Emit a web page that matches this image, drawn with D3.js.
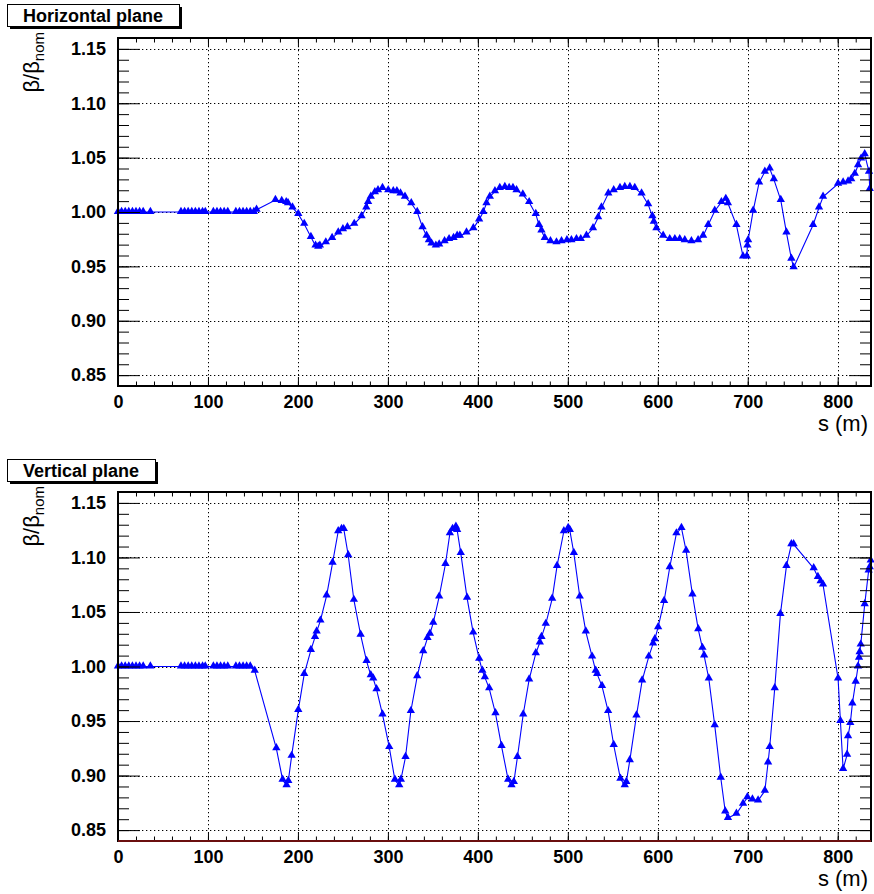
<!DOCTYPE html>
<html><head><meta charset="utf-8">
<script src="https://cdn.jsdelivr.net/npm/d3@7"></script>
<style>
body{margin:0;background:#fff}
svg{display:block}
text{font-family:"Liberation Sans",Arial,Helvetica,sans-serif}
</style>
</head><body>
<svg id="c" width="874" height="894"></svg>
<script>
// ---------- data ----------
const panelTitles = ["Horizontal plane", "Vertical plane"];
const xTicks = [0, 100, 200, 300, 400, 500, 600, 700, 800];
const yTicks = [0.85, 0.90, 0.95, 1.00, 1.05, 1.10, 1.15];
const xTitle = "s (m)";

const hS = [0,4,8,12,16,20,24,28,36,70,74,78,82,86,90,94,97,106,110,114,118,122,131,135,139,143,147,151,154,
175,182,187,189,194,200.4,207,214.4,219.6,222.6,224.4,231,238,244.8,250,255,262.6,270.7,276,278,281,285.5,289,294,
300.4,306,310,314,319,326,332.6,338.5,343,345.6,348.5,353.3,357,363,368,373,377,380,387.4,395,401.4,406,409.6,413.3,
419,424.4,430,434.8,439,443,450,457,464.4,468,470.7,474.4,480.7,487.4,493,499,504,509.6,514.4,520.7,528,533.7,537.4,
545,551,558,563.3,569,574.4,582,589.3,594,595.6,598.5,606,613.3,619,624.4,630,637.4,644.8,650.4,656,663.3,670.7,
675.6,678,687.4,694.8,699,699.6,700.4,706,712.6,719,724.4,729,736.7,743,748.5,751,772.6,779.2,783.7,800.4,806,811.5,
815,819,822.6,826,830,834.8,835.6];
const hBeta = [1,1,1,1,1,1,1,1,1,1,1,1,1,1,1,1,1,1,1,1,1,1,1,1,1,1,1,1,1.002,
1.011,1.010,1.009,1.008,1.004,0.998,0.989,0.977,0.969,0.968,0.969,0.972,0.976,0.981,0.984,0.986,0.989,0.996,1.004,1.009,1.014,1.018,1.020,1.022,
1.020,1.019,1.019,1.017,1.014,1.008,1.000,0.986,0.978,0.974,0.971,0.969,0.970,0.973,0.975,0.976,0.978,0.978,0.981,0.985,0.993,1.000,1.008,1.014,
1.019,1.022,1.023,1.022,1.022,1.020,1.016,1.009,0.998,0.988,0.983,0.976,0.973,0.972,0.973,0.974,0.974,0.975,0.975,0.978,0.985,0.995,1.004,
1.017,1.020,1.022,1.023,1.023,1.022,1.017,1.007,0.996,0.991,0.985,0.978,0.975,0.975,0.975,0.974,0.973,0.974,0.978,0.988,1.001,1.009,
1.012,1.008,0.988,0.959,0.959,0.969,0.974,1.001,1.027,1.037,1.040,1.030,1.011,0.981,0.957,0.949,0.988,1.004,1.014,1.026,1.027,1.028,
1.030,1.035,1.043,1.049,1.053,1.037,1.021];

const vS = [0,4,8,12,16,20,24,28,36,70,74,78,82,86,90,94,97,106,110,114,118,122,131,135,139,143,147,152,
176,183,187.4,189.3,193,200.4,207,214.4,219,220.8,225,231.9,238.5,244.8,248.5,251,255.9,262.2,269.7,276.3,281,283.7,287.4,294,
301.5,307.8,312.6,314.4,319.6,325.5,332.6,339.3,344,346.7,350.4,357,364,368.9,371.9,375.6,377,381,388,394.8,401.5,405,407.8,412.6,
419.6,426.3,433.7,437.4,440,444,450.4,457,464.4,468.9,470.7,475.5,482.6,488,495.6,500.4,502.2,506.7,513.3,520,527,531,532.6,538,
544.8,551,558.5,563.3,565,568.9,576.3,582.6,590,594.8,596.7,600.4,607,613.3,620.7,626.3,631.5,638.5,645,649.6,651.5,656.7,663.3,
670,675,678,687.4,694.8,699.6,705.2,711.5,719,722.6,724.4,730,736.3,743,748.5,751,773.3,778,781,783.7,800.4,803,806,810.4,811.5,
814,816.3,820,822.6,823.7,824.4,825.6,830,834.4,835.6,836.7];
const vBeta = [1,1,1,1,1,1,1,1,1,1,1,1,1,1,1,1,1,1,1,1,1,1,1,1,1,1,1,0.996,
0.925,0.896,0.891,0.895,0.918,0.960,0.993,1.015,1.027,1.032,1.042,1.065,1.095,1.124,1.126,1.126,1.102,1.061,1.029,1.005,0.992,0.989,0.979,0.956,
0.926,0.896,0.891,0.896,0.917,0.959,0.991,1.014,1.026,1.030,1.040,1.064,1.094,1.122,1.126,1.128,1.125,1.104,1.063,1.031,1.007,0.996,0.990,0.980,
0.957,0.927,0.896,0.891,0.894,0.917,0.956,0.988,1.012,1.022,1.027,1.039,1.062,1.092,1.124,1.127,1.125,1.104,1.064,1.032,1.009,0.996,0.993,0.982,
0.959,0.928,0.897,0.891,0.894,0.914,0.955,0.987,1.009,1.021,1.025,1.036,1.060,1.091,1.122,1.127,1.106,1.066,1.034,1.017,1.010,0.989,0.946,
0.898,0.867,0.861,0.865,0.874,0.880,0.878,0.877,0.886,0.912,0.926,0.980,1.048,1.092,1.112,1.112,1.090,1.082,1.078,1.075,0.989,0.950,0.906,0.919,0.936,
0.948,0.966,0.986,1.000,1.008,1.013,1.020,1.057,1.088,1.091,1.097];

// ---------- drawing ----------
const svg = d3.select("#c");
const FONT = '"Liberation Sans",Arial,Helvetica,sans-serif';
const left = 118, right = 871;
const panels = [
  {title: panelTitles[0], s: hS, b: hBeta, top: 38, bottom: 386, boxY: 4},
  {title: panelTitles[1], s: vS, b: vBeta, top: 492, bottom: 841, boxY: 459}
];

const x = d3.scaleLinear().domain([0, 837]).range([left, right]);

panels.forEach((p, pi) => {
  const y = d3.scaleLinear().domain([0.84, 1.16]).range([p.bottom, p.top]);
  const g = svg.append("g");
  const W = right - left, H = p.bottom - p.top;

  // grid
  const grid = g.append("g").attr("stroke", "#000").attr("stroke-width", 1).attr("stroke-dasharray", "1.3,2.7");
  grid.selectAll("line.gx").data(xTicks.filter(t => t > 0)).enter().append("line")
    .attr("x1", d => Math.round(x(d)) + 0.5).attr("x2", d => Math.round(x(d)) + 0.5)
    .attr("y1", p.top).attr("y2", p.bottom);
  grid.selectAll("line.gy").data(yTicks).enter().append("line")
    .attr("x1", left).attr("x2", right)
    .attr("y1", d => Math.round(y(d)) + 0.5).attr("y2", d => Math.round(y(d)) + 0.5);

  // data
  const pts = p.s.map((s, i) => [s, p.b[i]]);
  g.append("path").datum(pts)
    .attr("fill", "none").attr("stroke", "#0000ff").attr("stroke-width", 1.1)
    .attr("d", d3.line().x(d => x(d[0])).y(d => y(d[1])));
  const tri = d3.symbol().type(d3.symbolTriangle).size(30);
  g.selectAll("path.m").data(pts).enter().append("path")
    .attr("fill", "#0000ff")
    .attr("transform", d => `translate(${x(d[0])},${y(d[1]) - 0.5})`)
    .attr("d", tri);

  // axes (ticks inward)
  const yMinor = d3.range(84, 117).map(v => v / 100);
  const xMinor = d3.range(0, 837, 20);
  const axL = g.append("g").attr("transform", `translate(${left},0)`)
    .call(d3.axisLeft(y).tickValues(yTicks).tickSize(-22).tickPadding(12).tickFormat(d3.format(".2f")));
  g.append("g").attr("transform", `translate(${left},0)`)
    .call(d3.axisLeft(y).tickValues(yMinor).tickSize(-11).tickFormat(""));
  g.append("g").attr("transform", `translate(${right},0)`)
    .call(d3.axisRight(y).tickValues(yTicks).tickSize(-22).tickFormat(""));
  g.append("g").attr("transform", `translate(${right},0)`)
    .call(d3.axisRight(y).tickValues(yMinor).tickSize(-11).tickFormat(""));
  const axB = g.append("g").attr("transform", `translate(0,${p.bottom})`)
    .call(d3.axisBottom(x).tickValues(xTicks).tickSize(-9).tickPadding(9).tickFormat(d3.format("d")));
  g.append("g").attr("transform", `translate(0,${p.bottom})`)
    .call(d3.axisBottom(x).tickValues(xMinor).tickSize(-4.5).tickFormat(""));
  g.append("g").attr("transform", `translate(0,${p.top})`)
    .call(d3.axisTop(x).tickValues(xTicks).tickSize(-9).tickFormat(""));
  g.append("g").attr("transform", `translate(0,${p.top})`)
    .call(d3.axisTop(x).tickValues(xMinor).tickSize(-4.5).tickFormat(""));
  g.selectAll(".domain").remove();
  g.selectAll(".tick line").attr("stroke", "#000").attr("stroke-width", 1);
  g.selectAll(".tick text").attr("font-family", FONT).attr("font-size", 18).attr("font-weight", "bold").attr("fill", "#000");

  // frame
  g.append("rect").attr("x", left).attr("y", p.top).attr("width", W).attr("height", H)
    .attr("fill", "none").attr("stroke", "#000").attr("stroke-width", 2);
  if (pi === 1) {
    g.append("line").attr("x1", left).attr("x2", right).attr("y1", p.bottom).attr("y2", p.bottom)
      .attr("stroke", "#6b0f0f").attr("stroke-width", 2);
  }

  // axis titles
  g.append("text").attr("x", 868).attr("y", p.bottom + 45).attr("text-anchor", "end")
    .attr("font-size", 22).attr("font-family", FONT).text(xTitle);
  const yt = g.append("text").attr("transform", `translate(39,${p.top - 6}) rotate(-90)`)
    .attr("text-anchor", "end").attr("font-size", 22).attr("font-family", FONT);
  yt.append("tspan").text("β/β");
  yt.append("tspan").attr("font-size", 15).attr("dy", 5).text("nom");

  // title box
  const tb = svg.append("g");
  const tt = tb.append("text").attr("x", 0).attr("y", p.boxY + 17.5)
    .attr("font-size", 18).attr("font-weight", "bold").attr("font-family", FONT).text(p.title);
  const tw = tt.node().getComputedTextLength();
  const bw = Math.round(tw + 32), bx = 7, bh = 22;
  tb.insert("rect", "text").attr("x", bx + 3).attr("y", p.boxY + 3).attr("width", bw).attr("height", bh).attr("fill", "#000");
  tb.insert("rect", "text").attr("x", bx + 0.5).attr("y", p.boxY + 0.5).attr("width", bw).attr("height", bh)
    .attr("fill", "#fff").attr("stroke", "#000").attr("stroke-width", 1);
  tt.attr("x", bx + (bw - tw) / 2);
});
</script>
</body></html>
